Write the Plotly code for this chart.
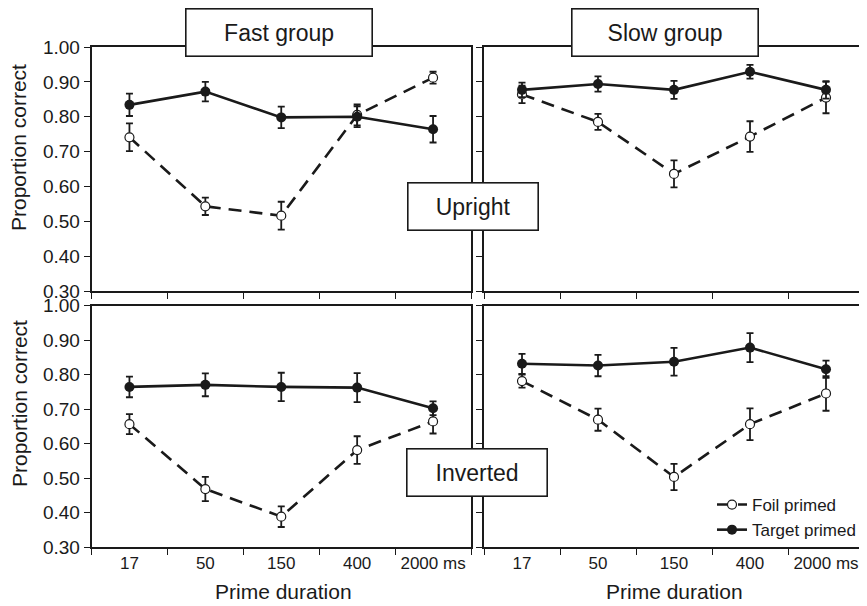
import plotly.graph_objects as go

# ---- data ----
durations = ["17", "50", "150", "400", "2000 ms"]

fast_upright_target = [0.834, 0.872, 0.798, 0.800, 0.764]
fast_upright_target_err = [0.032, 0.028, 0.031, 0.030, 0.038]
fast_upright_foil = [0.741, 0.543, 0.516, 0.805, 0.912]
fast_upright_foil_err = [0.040, 0.025, 0.040, 0.030, 0.017]

slow_upright_target = [0.877, 0.894, 0.877, 0.929, 0.877]
slow_upright_target_err = [0.021, 0.022, 0.026, 0.020, 0.025]
slow_upright_foil = [0.864, 0.785, 0.636, 0.743, 0.855]
slow_upright_foil_err = [0.025, 0.023, 0.039, 0.044, 0.045]

fast_inverted_target = [0.764, 0.770, 0.764, 0.762, 0.702]
fast_inverted_target_err = [0.030, 0.033, 0.041, 0.042, 0.020]
fast_inverted_foil = [0.656, 0.468, 0.388, 0.581, 0.664]
fast_inverted_foil_err = [0.029, 0.035, 0.030, 0.040, 0.035]

slow_inverted_target = [0.831, 0.826, 0.837, 0.878, 0.815]
slow_inverted_target_err = [0.029, 0.031, 0.040, 0.042, 0.025]
slow_inverted_foil = [0.781, 0.669, 0.503, 0.656, 0.745]
slow_inverted_foil_err = [0.019, 0.032, 0.038, 0.046, 0.050]

y_ticks = [0.3, 0.4, 0.5, 0.6, 0.7, 0.8, 0.9, 1.0]

# The page body has an 8px margin, so the figure is placed at (8, 8)
# in the 867x606 window; size it to fill the rest of the window.
OFF = 8
W, H = 867 - OFF, 606 - OFF
FONT = "Liberation Sans, Arial, Helvetica, sans-serif"
INK = "#1a1a1a"

panels = [
    # (xaxis id, yaxis id, foil, foil_err, target, target_err, showlegend)
    ("x", "y", fast_upright_foil, fast_upright_foil_err, fast_upright_target, fast_upright_target_err, False),
    ("x2", "y2", slow_upright_foil, slow_upright_foil_err, slow_upright_target, slow_upright_target_err, False),
    ("x3", "y3", fast_inverted_foil, fast_inverted_foil_err, fast_inverted_target, fast_inverted_target_err, False),
    ("x4", "y4", slow_inverted_foil, slow_inverted_foil_err, slow_inverted_target, slow_inverted_target_err, True),
]

fig = go.Figure()
for xa, ya, foil, foil_err, targ, targ_err, sl in panels:
    fig.add_trace(go.Scatter(
        x=durations, y=foil, xaxis=xa, yaxis=ya, mode="lines+markers",
        name="Foil primed", showlegend=sl,
        line=dict(color=INK, width=2.6, dash="13px,8px"),
        marker=dict(symbol="circle", size=9, color="white", line=dict(color=INK, width=1.2)),
        error_y=dict(type="data", array=foil_err, visible=True, color=INK, thickness=1.8, width=3.5),
    ))
    fig.add_trace(go.Scatter(
        x=durations, y=targ, xaxis=xa, yaxis=ya, mode="lines+markers",
        name="Target primed", showlegend=sl,
        line=dict(color=INK, width=2.6),
        marker=dict(symbol="circle", size=10, color=INK),
        error_y=dict(type="data", array=targ_err, visible=True, color=INK, thickness=1.8, width=3.5),
    ))

# helpers converting window pixel positions to paper fractions
def fx(px):
    return (px - OFF) / W

def fy(py):
    return (H - (py - OFF)) / H

left_dom = [fx(91.5), fx(471)]
right_dom = [fx(484), fx(864)]
top_dom = [fy(291), fy(47)]
bot_dom = [fy(547), fy(305.5)]

xcommon = dict(
    type="category", categoryorder="array", categoryarray=durations,
    range=[-0.5, 4.5], showline=True, linecolor=INK, linewidth=1.5, mirror=True,
    ticks="outside", ticklen=6, tickwidth=1.2, tickcolor=INK, tickson="boundaries",
    showgrid=False, zeroline=False, tickangle=0,
    tickfont=dict(family=FONT, size=17, color=INK),
)
ycommon = dict(
    range=[0.3, 1.0], tickvals=y_ticks, tickformat=".2f",
    showline=True, linecolor=INK, linewidth=1.5, mirror=True,
    ticks="outside", ticklen=6, tickwidth=1.2, tickcolor=INK,
    showgrid=False, zeroline=False,
    tickfont=dict(family=FONT, size=19, color=INK),
)

layout_axes = {
    "xaxis": dict(xcommon, domain=left_dom, anchor="y", showticklabels=False),
    "yaxis": dict(ycommon, domain=top_dom, anchor="x"),
    "xaxis2": dict(xcommon, domain=right_dom, anchor="y2", showticklabels=False),
    "yaxis2": dict(ycommon, domain=top_dom, anchor="x2", showticklabels=False),
    "xaxis3": dict(xcommon, domain=left_dom, anchor="y3"),
    "yaxis3": dict(ycommon, domain=bot_dom, anchor="x3"),
    "xaxis4": dict(xcommon, domain=right_dom, anchor="y4"),
    "yaxis4": dict(ycommon, domain=bot_dom, anchor="x4", showticklabels=False),
}

def box(text, cx, cy, w, h, size=23):
    return dict(
        text=text, xref="paper", yref="paper", x=fx(cx), y=fy(cy),
        xanchor="center", yanchor="middle", showarrow=False,
        width=w, height=h, align="center", valign="middle",
        bgcolor="white", bordercolor=INK, borderwidth=1.6, borderpad=0,
        font=dict(family=FONT, size=size, color=INK),
    )

def label(text, cx, cy, size=21, angle=0):
    return dict(
        text=text, xref="paper", yref="paper", x=fx(cx), y=fy(cy),
        xanchor="center", yanchor="middle", showarrow=False, textangle=angle,
        font=dict(family=FONT, size=size, color=INK),
    )

annotations = [
    box("Fast group", 279, 32.5, 185, 46),
    box("Slow group", 665, 32.5, 185, 46),
    box("Upright", 473, 206.5, 129, 46),
    box("Inverted", 477, 472, 139, 46),
    label("Proportion correct", 19, 148, angle=-90),
    label("Proportion correct", 19, 404, angle=-90),
    label("Prime duration", 283, 591),
    label("Prime duration", 674, 591),
]

fig.update_layout(
    width=W, height=H,
    margin=dict(l=0, r=0, t=0, b=0, autoexpand=False),
    paper_bgcolor="white", plot_bgcolor="white",
    font=dict(family=FONT, color=INK),
    annotations=annotations,
    showlegend=True,
    legend=dict(
        x=fx(712), y=fy(487), xanchor="left", yanchor="top",
        bgcolor="rgba(0,0,0,0)", borderwidth=0,
        font=dict(family=FONT, size=17, color=INK),
        tracegroupgap=0,
    ),
    **layout_axes,
)

fig.write_html("out.html")
